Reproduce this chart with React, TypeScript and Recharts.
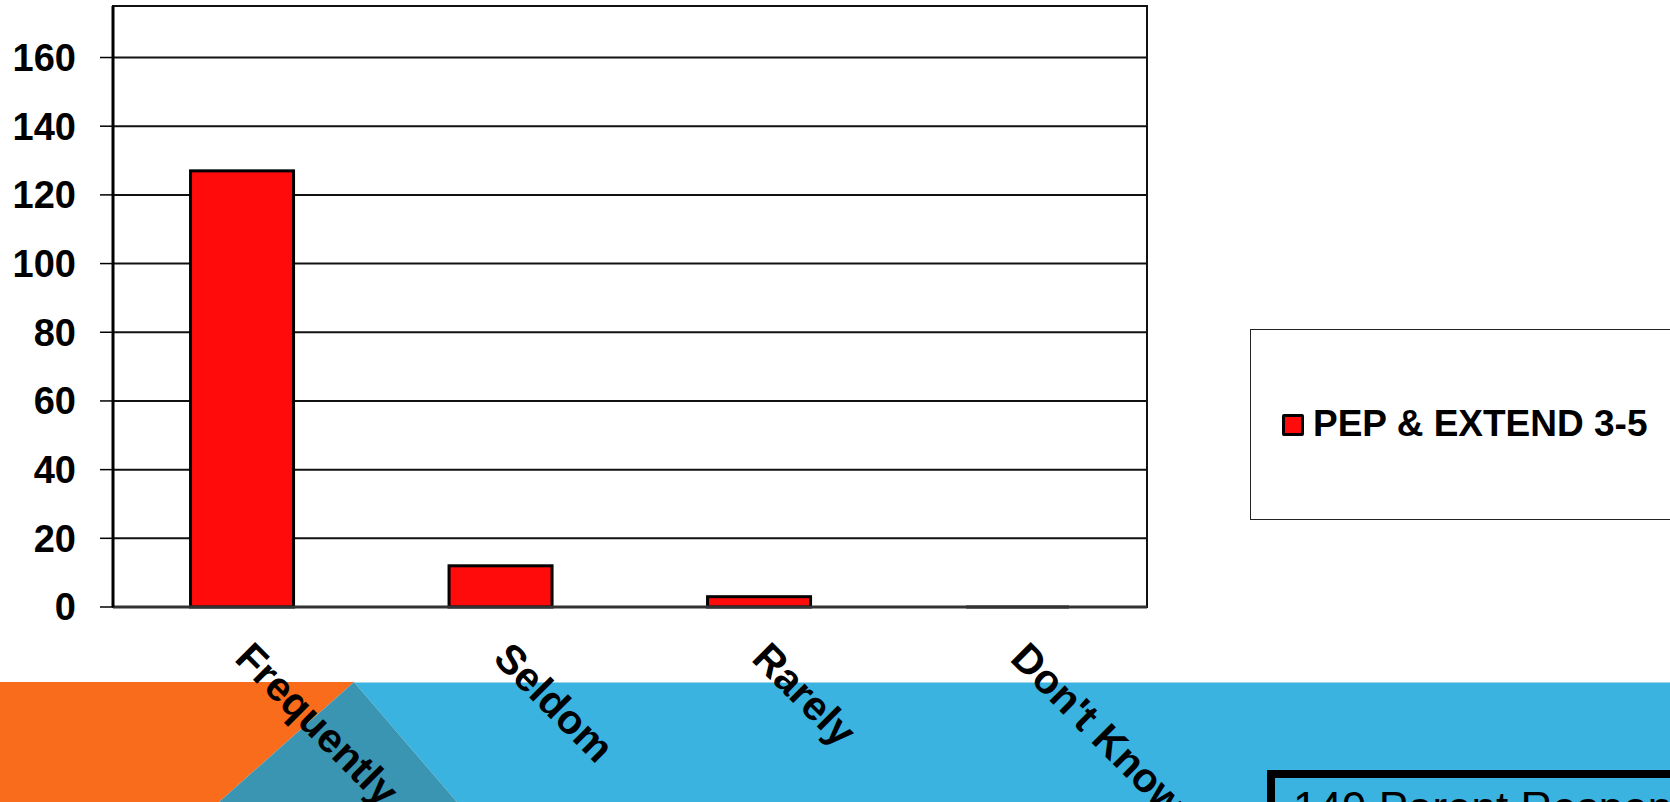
import React from "react";
import {
  BarChart,
  Bar,
  XAxis,
  YAxis,
  CartesianGrid,
  ReferenceArea,
} from "recharts";

// ---- data ----
const categories = ["Frequently", "Seldom", "Rarely", "Don't Know"];
const seriesName = "PEP & EXTEND 3-5";
const seriesValues = [127, 12, 3, 0];
const yTicks = [0, 20, 40, 60, 80, 100, 120, 140, 160];
const yMax = 175;
const boundaryTicks = [0, 1, 2, 3, 4];
const footnote = "149 Parent Responses";

const data = categories.map((c, i) => ({ name: c, value: seriesValues[i] }));

const FONT = '"Liberation Sans", Arial, Helvetica, sans-serif';
const RED = "#FF0B0B";

const BarShape = (props: any) => {
  const { x, y, width, height } = props;
  if (!height) {
    return (
      <line x1={x} x2={x + width} y1={y} y2={y} stroke="#111" strokeWidth={3} />
    );
  }
  return (
    <rect
      x={x}
      y={y}
      width={width}
      height={height}
      fill={RED}
      stroke="#000"
      strokeWidth={3}
    />
  );
};

const XTick = (props: any) => {
  const { x, y, payload } = props;
  const ax = x - 9;
  const ay = y + 53;
  return (
    <text
      x={ax}
      y={ay}
      transform={`rotate(45 ${ax} ${ay})`}
      textAnchor="start"
      fontFamily={FONT}
      fontWeight="bold"
      fontSize={41}
      fill="#000"
    >
      {payload.value}
    </text>
  );
};

export default function App() {
  return (
    <div
      style={{
        position: "fixed",
        left: 0,
        top: 0,
        width: 1670,
        height: 802,
        overflow: "hidden",
        background: "#fff",
        fontFamily: FONT,
      }}
    >
      {/* slide background band */}
      <svg
        width={1670}
        height={802}
        style={{ position: "absolute", left: 0, top: 0 }}
      >
        <polygon points="0,682 354,682 219,802 0,802" fill="#F86C1C" />
        <polygon points="354,682 1670,682 1670,802 457,802" fill="#3BB3E0" />
        <polygon points="354,682 457,802 219,802" fill="#3A95B3" />
        <line x1={354} x2={1670} y1={682.5} y2={682.5} stroke="#9FD6EE" strokeWidth={1} />
      </svg>

      {/* footnote box */}
      <div
        style={{
          position: "absolute",
          left: 1267,
          top: 770,
          width: 600,
          height: 100,
          border: "8px solid #000",
          boxSizing: "border-box",
          paddingLeft: 18,
          paddingTop: 8,
          fontSize: 44,
          lineHeight: "44px",
          color: "#000",
          whiteSpace: "nowrap",
        }}
      >
        {footnote}
      </div>

      {/* legend */}
      <div
        style={{
          position: "absolute",
          left: 1250,
          top: 329,
          width: 460,
          height: 191,
          border: "1.5px solid #222",
          boxSizing: "border-box",
          background: "#fff",
        }}
      >
        <div
          style={{
            position: "absolute",
            left: 31,
            top: 84,
            width: 22,
            height: 22,
            boxSizing: "border-box",
            border: "3px solid #000",
            borderRadius: 2,
            background: RED,
          }}
        />
        <div
          style={{
            position: "absolute",
            left: 62,
            top: 74,
            fontSize: 37,
            lineHeight: "40px",
            fontWeight: "bold",
            color: "#000",
            whiteSpace: "nowrap",
          }}
        >
          {seriesName}
        </div>
      </div>

      <div style={{ position: "absolute", left: 0, top: 0 }}>
        <BarChart
          width={1670}
          height={802}
          data={data}
          margin={{ top: 6, right: 523, bottom: 0, left: 0 }}
          barCategoryGap="30%"
        >
          <CartesianGrid
            xAxisId="cat"
            vertical={false}
            stroke="#111"
            strokeWidth={2}
          />
          <XAxis
            xAxisId="ticks"
            type="number"
            domain={[0, 4]}
            ticks={boundaryTicks}
            height={0}
            axisLine={false}
            tick={false}
            tickSize={12}
            tickLine={{ stroke: "#333", strokeWidth: 1.5 }}
            allowDataOverflow
          />
          <XAxis
            xAxisId="cat"
            dataKey="name"
            height={195}
            interval={0}
            tickLine={false}
            tickSize={0}
            tickMargin={0}
            axisLine={{ stroke: "#333", strokeWidth: 3 }}
            tick={<XTick />}
          />
          <YAxis
            width={113}
            domain={[0, yMax]}
            ticks={yTicks}
            interval={0}
            tickSize={13}
            tickMargin={24}
            axisLine={{ stroke: "#000", strokeWidth: 3 }}
            tickLine={{ stroke: "#000", strokeWidth: 1.5 }}
            tick={{
              fontSize: 38,
              fontWeight: "bold",
              fill: "#000",
              fontFamily: FONT,
            }}
          />
          <ReferenceArea
            xAxisId="cat"
            y1={0}
            y2={yMax}
            fill="none"
            fillOpacity={0}
            stroke="#111"
            strokeWidth={2}
            ifOverflow="visible"
          />
          <Bar
            xAxisId="cat"
            dataKey="value"
            name={seriesName}
            fill={RED}
            shape={<BarShape />}
            isAnimationActive={false}
          />
        </BarChart>
      </div>
    </div>
  );
}
